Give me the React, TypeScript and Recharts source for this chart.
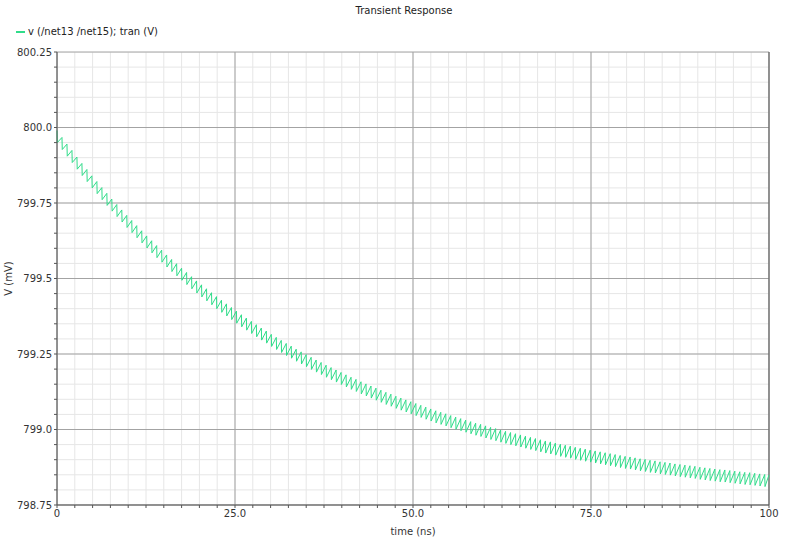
import { LineChart, Line, XAxis, YAxis, ReferenceLine, Label } from 'recharts'

/* Transient response of v(/net13 /net15): a slowly settling sawtooth.
   One peak per switching cycle (mV). */
const peaks = [
  799.990, 799.967, 799.945, 799.924, 799.902, 799.881, 799.861, 799.840, 799.821, 799.801,
  799.782, 799.763, 799.745, 799.727, 799.709, 799.692, 799.675, 799.658, 799.641, 799.625,
  799.609, 799.594, 799.578, 799.563, 799.549, 799.534, 799.520, 799.506, 799.492, 799.479,
  799.466, 799.453, 799.440, 799.428, 799.416, 799.404, 799.392, 799.380, 799.369, 799.358,
  799.347, 799.336, 799.326, 799.315, 799.305, 799.295, 799.285, 799.276, 799.266, 799.257,
  799.248, 799.239, 799.230, 799.222, 799.213, 799.205, 799.197, 799.189, 799.181, 799.173,
  799.166, 799.158, 799.151, 799.144, 799.137, 799.130, 799.123, 799.117, 799.110, 799.104,
  799.098, 799.092, 799.086, 799.080, 799.074, 799.068, 799.062, 799.057, 799.052, 799.046,
  799.041, 799.036, 799.031, 799.026, 799.021, 799.017, 799.012, 799.007, 799.003, 798.998,
  798.994, 798.990, 798.986, 798.982, 798.978, 798.974, 798.970, 798.966, 798.962, 798.959,
  798.955, 798.951, 798.948, 798.945, 798.941, 798.938, 798.935, 798.932, 798.929, 798.926,
  798.923, 798.920, 798.917, 798.914, 798.911, 798.909, 798.906, 798.903, 798.901, 798.898,
  798.896, 798.893, 798.891, 798.889, 798.886, 798.884, 798.882, 798.880, 798.878, 798.875,
  798.873, 798.871, 798.869, 798.867, 798.866, 798.864, 798.862, 798.860, 798.858, 798.857,
  798.855, 798.853, 798.851,
]
const toothPeriod = 0.7 // ns between discharge steps
const toothDrop = 0.04 // mV drop at each step
const endTime = 100
const endValue = 798.85

const xMajor = [0, 25, 50, 75, 100]
const xMinor = [
  0, 2.5, 5, 7.5, 10, 12.5, 15, 17.5, 20, 22.5, 25, 27.5, 30, 32.5, 35, 37.5, 40, 42.5, 45, 47.5,
  50, 52.5, 55, 57.5, 60, 62.5, 65, 67.5, 70, 72.5, 75, 77.5, 80, 82.5, 85, 87.5, 90, 92.5, 95, 97.5, 100,
]
const yMajor = [798.75, 799.0, 799.25, 799.5, 799.75, 800.0, 800.25]
const yMinor = [
  798.75, 798.8, 798.85, 798.9, 798.95, 799.0, 799.05, 799.1, 799.15, 799.2, 799.25, 799.3, 799.35,
  799.4, 799.45, 799.5, 799.55, 799.6, 799.65, 799.7, 799.75, 799.8, 799.85, 799.9, 799.95, 800.0,
  800.05, 800.1, 800.15, 800.2, 800.25,
]
const xLabels: Record<number, string> = { 0: '0', 25: '25.0', 50: '50.0', 75: '75.0', 100: '100' }
const yLabels: Record<string, string> = {
  '798.75': '798.75', '799': '799.0', '799.25': '799.25', '799.5': '799.5',
  '799.75': '799.75', '800': '800.0', '800.25': '800.25',
}

const data: { t: number; v: number }[] = []
peaks.forEach((p, i) => {
  const t = i * toothPeriod
  data.push({ t, v: p })
  data.push({ t: t + 0.04, v: p - toothDrop })
})
data.push({ t: endTime, v: endValue })

const FONT = '"DejaVu Sans", sans-serif'
const TRACE = '#30dc8a'

export default function App() {
  return (
    <div style={{ position: 'absolute', left: 0, top: 0, width: 800, height: 543, background: '#fff', fontFamily: FONT }}>
      <div style={{ position: 'absolute', left: 0, width: 800, top: 5, textAlign: 'center', fontSize: 10, color: '#222', paddingLeft: 8, boxSizing: 'border-box' }}>
        Transient Response
      </div>
      <div style={{ position: 'absolute', left: 16, top: 26, fontSize: 10, color: '#222', display: 'flex', alignItems: 'center' }}>
        <span style={{ display: 'inline-block', width: 9, height: 0, borderTop: '2px solid ' + TRACE, marginRight: 3 }} />
        v (/net13 /net15); tran (V)
      </div>
      <LineChart width={800} height={543} data={data} margin={{ top: 52, right: 31, bottom: 0, left: 0 }}>
        {xMinor.map((x) => (
          <ReferenceLine key={'xm' + x} x={x} stroke="#e6e6e6" strokeWidth={1} ifOverflow="hidden" />
        ))}
        {yMinor.map((y) => (
          <ReferenceLine key={'ym' + y} y={y} stroke="#e6e6e6" strokeWidth={1} ifOverflow="hidden" />
        ))}
        {xMajor.map((x) => (
          <ReferenceLine key={'xM' + x} x={x} stroke="#a3a3a3" strokeWidth={1} />
        ))}
        {yMajor.map((y) => (
          <ReferenceLine key={'yM' + y} y={y} stroke="#a3a3a3" strokeWidth={1} />
        ))}
        <XAxis dataKey="t" type="number" domain={[0, 100]} ticks={xMinor} interval={0}
          tickFormatter={(v: number) => xLabels[v] ?? ''} height={38}
          stroke="#555" tickSize={3} tick={{ fontSize: 10, fill: '#333', fontFamily: FONT }}>
          <Label value="time (ns)" position="insideBottom" offset={8} style={{ fontSize: 10, fill: '#333', fontFamily: FONT }} />
        </XAxis>
        <YAxis type="number" domain={[798.75, 800.25]} ticks={yMinor} interval={0} width={57}
          tickFormatter={(v: number) => yLabels[String(Math.round(v * 100) / 100)] ?? ''}
          stroke="#555" tickSize={3} tick={{ fontSize: 10, fill: '#333', fontFamily: FONT }}>
          <Label value="V (mV)" angle={-90} position="insideLeft" offset={8} style={{ fontSize: 10, fill: '#333', fontFamily: FONT, textAnchor: 'middle' }} />
        </YAxis>
        <ReferenceLine x={100} stroke="#555" strokeWidth={1} />
        <Line type="linear" dataKey="v" stroke={TRACE} strokeWidth={1} dot={false} isAnimationActive={false} />
      </LineChart>
    </div>
  )
}
